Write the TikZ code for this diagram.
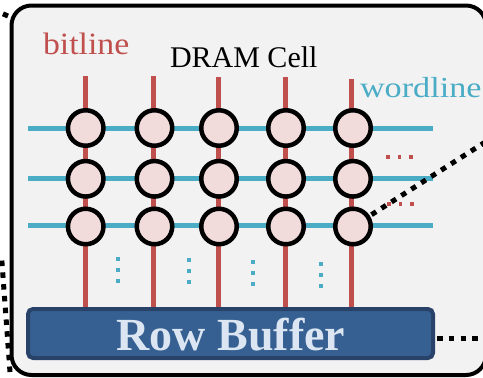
\documentclass[tikz,border=0pt]{standalone}
\usepackage{fontspec}
\setmainfont{Liberation Serif}
\usepackage{graphicx}
\definecolor{bg}{RGB}{242,242,242}
\definecolor{bitred}{RGB}{192,80,77}
\definecolor{wordblue}{RGB}{75,172,198}
\definecolor{cellpink}{RGB}{242,220,219}
\definecolor{rbfill}{RGB}{54,96,146}
\definecolor{rbborder}{RGB}{40,66,105}
\definecolor{rbtext}{RGB}{220,230,242}
\begin{document}
\begin{tikzpicture}[x=1pt,y=-1pt,
  bitln/.style={draw=bitred,line width=5pt},
  wordln/.style={draw=wordblue,line width=5pt},
  cell/.style={circle,draw=black,fill=cellpink,line width=4.5pt,minimum size=35.5pt,inner sep=0pt},
  vdot/.style={fill=wordblue,minimum size=3.5pt,inner sep=0pt},
  hdot/.style={fill=bitred,minimum size=3.5pt,inner sep=0pt},
  blackdots/.style={draw=black,line width=5pt,dash pattern=on 5.5pt off 6.3pt},
  lbl/.style={anchor=base west,inner sep=0pt,outer sep=0pt}
]
\useasboundingbox (0,0) rectangle (483,378);
% frame
\node[draw=black,fill=bg,line width=4pt,rounded corners=20pt,minimum width=474.5pt,minimum height=369.5pt,inner sep=0pt] (frame) at (248.75,190.25) {};
% wordlines
\foreach \y [count=\j] in {128,178,225} {
  \coordinate (wl\j) at (28,\y);
  \coordinate (wr\j) at (433,\y);
  \draw[wordln] (wl\j) -- (wr\j);
}
% row buffer
\node[draw=rbborder,fill=rbfill,line width=4pt,rounded corners=5pt,minimum width=405pt,minimum height=49pt,inner sep=0pt] (rb) at (230.5,333.5) {};
% bitlines
\foreach \x/\t [count=\i] in {85.5/76,153.5/76,218.5/77,285.5/77,351/79} {
  \coordinate (bt\i) at (\x,\t);
  \draw[bitln] (bt\i) -- (bt\i |- rb.north);
}
% cells
\foreach \x [count=\i] in {85.7,154.5,219,286,353} {
  \foreach \y [count=\j] in {128,178.8,226.5} {
    \node[cell] (c\j\i) at (\x,\y) {};
  }
}
% vertical dots
\foreach \x/\y [count=\i] in {118/259,189/260,253/262,321/264} {
  \node[vdot] (va\i) at (\x,\y) {};
  \node[vdot] (vb\i) at (\x,\y+11) {};
  \node[vdot] (vc\i) at (\x,\y+22) {};
}
% horizontal dots
\node[hdot] (ha1) at (388,157) {};
\node[hdot] (ha2) at (399.5,157) {};
\node[hdot] (ha3) at (411,157) {};
\node[hdot] (hb1) at (389,204) {};
\node[hdot] (hb2) at (400.5,204) {};
\node[hdot] (hb3) at (412,204) {};
% labels
\node[lbl,text=bitred] (bitlbl) at (43,54) {\fontsize{31}{36}\selectfont\scalebox{1.09}[1]{bitline}};
\node[lbl,text=black] (celllbl) at (170,67) {\fontsize{30}{36}\selectfont DRAM Cell};
\node[lbl,text=wordblue] (wordlbl) at (360,97) {\fontsize{29}{34}\selectfont\scalebox{1.18}[1]{wordline}};
\node[anchor=base,inner sep=0pt,text=rbtext] (rbtext) at (231,350) {\fontsize{46}{50}\selectfont\bfseries Row Buffer};
% dotted callout lines
\coordinate (rt) at (490,139);
\draw[blackdots,shorten <=2pt] (c35) -- (rt);
\coordinate (rr) at (490,338);
\draw[blackdots] ([xshift=2pt]rb.east |- rr) -- (rr);
\coordinate (lb) at (10,372);
\coordinate (lt) at (1.5,256);
\draw[blackdots] (lb) -- (lt);
\coordinate (tla) at (8,16);
\coordinate (tlb) at (-30,0);
\draw[blackdots] (tla) -- (tlb);
\end{tikzpicture}
\end{document}
